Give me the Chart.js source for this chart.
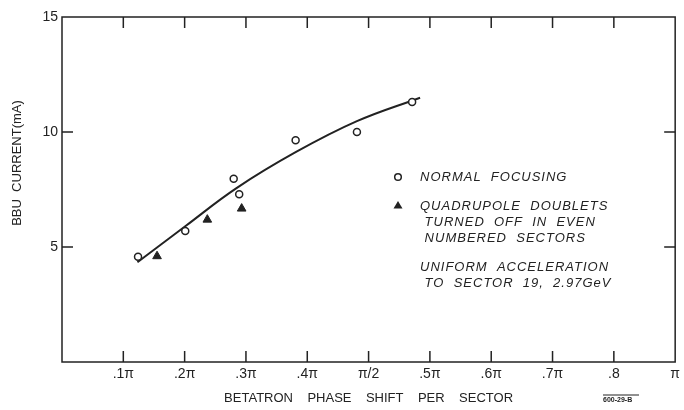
<!DOCTYPE html>
<html>
<head>
<meta charset="utf-8">
<script src="https://cdn.jsdelivr.net/npm/chart.js@4"></script>
<style>
body { margin: 0; background: #fff; }
#wrap { width: 684px; height: 410px; }
</style>
</head>
<body>
<div id="wrap"><canvas id="bbu"></canvas></div>
<script>
// tick labels as printed on the original figure
var xTickLabels = ['', '.1π', '.2π', '.3π', '.4π', 'π/2', '.5π', '.6π', '.7π', '.8', 'π'];
var yTickLabels = ['', '5', '10', '15'];

// normal focusing (open circles)
var normalX = [0.124, 0.201, 0.280, 0.289, 0.381, 0.481, 0.571];
var normalY = [4.58, 5.70, 7.97, 7.29, 9.64, 10.0, 11.30];

// quadrupole doublets off in even sectors (filled triangles)
var quadX = [0.155, 0.237, 0.293];
var quadY = [4.60, 6.19, 6.67];

// hand drawn fit curve
var curveX = [0.123, 0.201, 0.284, 0.381, 0.481, 0.584];
var curveY = [4.34, 5.90, 7.55, 9.12, 10.47, 11.49];

var legendLines = [
  ['NORMAL  FOCUSING'],
  ['QUADRUPOLE  DOUBLETS', ' TURNED  OFF  IN  EVEN', ' NUMBERED  SECTORS'],
  ['UNIFORM  ACCELERATION', ' TO  SECTOR  19,  2.97GeV']
];

var ink = '#222';
var fontName = '"Liberation Sans", Arial, sans-serif';

function pts(xs, ys) {
  return xs.map(function (x, i) { return { x: x, y: ys[i] }; });
}

var decor = {
  id: 'decor',
  beforeDatasetsDraw: function (chart) {
    var ctx = chart.ctx, a = chart.chartArea;
    var xs = chart.scales.x, ys = chart.scales.y;
    ctx.save();
    ctx.strokeStyle = ink;
    ctx.lineWidth = 1.5;
    ctx.strokeRect(a.left, a.top, a.right - a.left, a.bottom - a.top);
    ctx.beginPath();
    xs.ticks.forEach(function (t, i) {
      if (i === 0 || i === xs.ticks.length - 1) return;
      var px = xs.getPixelForValue(t.value);
      ctx.moveTo(px, a.bottom); ctx.lineTo(px, a.bottom - 11);
      ctx.moveTo(px, a.top); ctx.lineTo(px, a.top + 11);
    });
    ys.ticks.forEach(function (t, i) {
      if (i === 0 || i === ys.ticks.length - 1) return;
      var py = ys.getPixelForValue(t.value);
      ctx.moveTo(a.left, py); ctx.lineTo(a.left + 11, py);
      ctx.moveTo(a.right, py); ctx.lineTo(a.right - 11, py);
    });
    ctx.stroke();
    ctx.restore();
  },
  afterDraw: function (chart) {
    var ctx = chart.ctx;
    ctx.save();
    ctx.fillStyle = ink;
    ctx.strokeStyle = ink;

    // y axis title
    ctx.font = '13px ' + fontName;
    ctx.textAlign = 'center';
    ctx.textBaseline = 'middle';
    ctx.translate(17, 163);
    ctx.rotate(-Math.PI / 2);
    ctx.fillText('BBU  CURRENT(mA)', 0, 0);
    ctx.setTransform(1, 0, 0, 1, 0, 0);

    // legend
    ctx.lineWidth = 1.5;
    ctx.beginPath();
    ctx.arc(398, 177, 3.3, 0, Math.PI * 2);
    ctx.stroke();
    ctx.beginPath();
    ctx.moveTo(398, 201); ctx.lineTo(402.5, 208.5); ctx.lineTo(393.5, 208.5);
    ctx.closePath();
    ctx.fill();

    ctx.font = 'italic 13px ' + fontName;
    ctx.letterSpacing = '1px';
    ctx.textAlign = 'left';
    var rows = [[177], [206, 222, 238], [267, 283]];
    legendLines.forEach(function (block, b) {
      block.forEach(function (txt, j) {
        ctx.fillText(txt, 420, rows[b][j]);
      });
    });

    // drawing number
    ctx.letterSpacing = '0px';
    ctx.font = 'bold 7px ' + fontName;
    ctx.fillText('600-29-B', 603, 400);
    ctx.lineWidth = 1;
    ctx.beginPath();
    ctx.moveTo(603, 395); ctx.lineTo(639, 395);
    ctx.stroke();
    ctx.restore();
  }
};

new Chart(document.getElementById('bbu'), {
  type: 'scatter',
  data: {
    datasets: [
      {
        label: 'NORMAL FOCUSING',
        data: pts(normalX, normalY),
        pointStyle: 'circle',
        pointRadius: 3.5,
        pointBorderWidth: 1.5,
        pointBackgroundColor: '#fff',
        pointBorderColor: ink,
        order: 1
      },
      {
        label: 'QUADRUPOLE DOUBLETS TURNED OFF IN EVEN NUMBERED SECTORS',
        data: pts(quadX, quadY),
        pointStyle: 'triangle',
        pointRadius: 5,
        pointBorderWidth: 1,
        pointBackgroundColor: ink,
        pointBorderColor: ink,
        order: 1
      },
      {
        label: 'fit',
        data: pts(curveX, curveY),
        showLine: true,
        borderColor: ink,
        borderWidth: 2,
        tension: 0.4,
        pointRadius: 0,
        order: 2
      }
    ]
  },
  options: {
    responsive: true,
    maintainAspectRatio: false,
    animation: false,
    layout: { padding: { top: 17, right: 6, left: 0, bottom: 0 } },
    plugins: { legend: { display: false }, tooltip: { enabled: false } },
    scales: {
      x: {
        type: 'linear',
        min: 0,
        max: 1,
        afterFit: function (s) { s.height = 48; },
        grid: { display: false, drawTicks: false },
        border: { display: false },
        ticks: {
          stepSize: 0.1,
          autoSkip: false,
          maxRotation: 0,
          padding: 4,
          color: ink,
          font: { family: fontName, size: 14 },
          callback: function (v, i) { return xTickLabels[i]; }
        },
        title: {
          display: true,
          text: 'BETATRON    PHASE    SHIFT    PER    SECTOR',
          color: ink,
          font: { family: fontName, size: 13 },
          padding: { top: 0, bottom: 4 }
        }
      },
      y: {
        type: 'linear',
        min: 0,
        max: 15,
        afterFit: function (s) { s.width = 62; },
        grid: { display: false, drawTicks: false },
        border: { display: false },
        ticks: {
          stepSize: 5,
          padding: 4,
          color: ink,
          font: { family: fontName, size: 14 },
          callback: function (v, i) { return yTickLabels[i]; }
        }
      }
    }
  },
  plugins: [decor]
});
</script>
</body>
</html>
